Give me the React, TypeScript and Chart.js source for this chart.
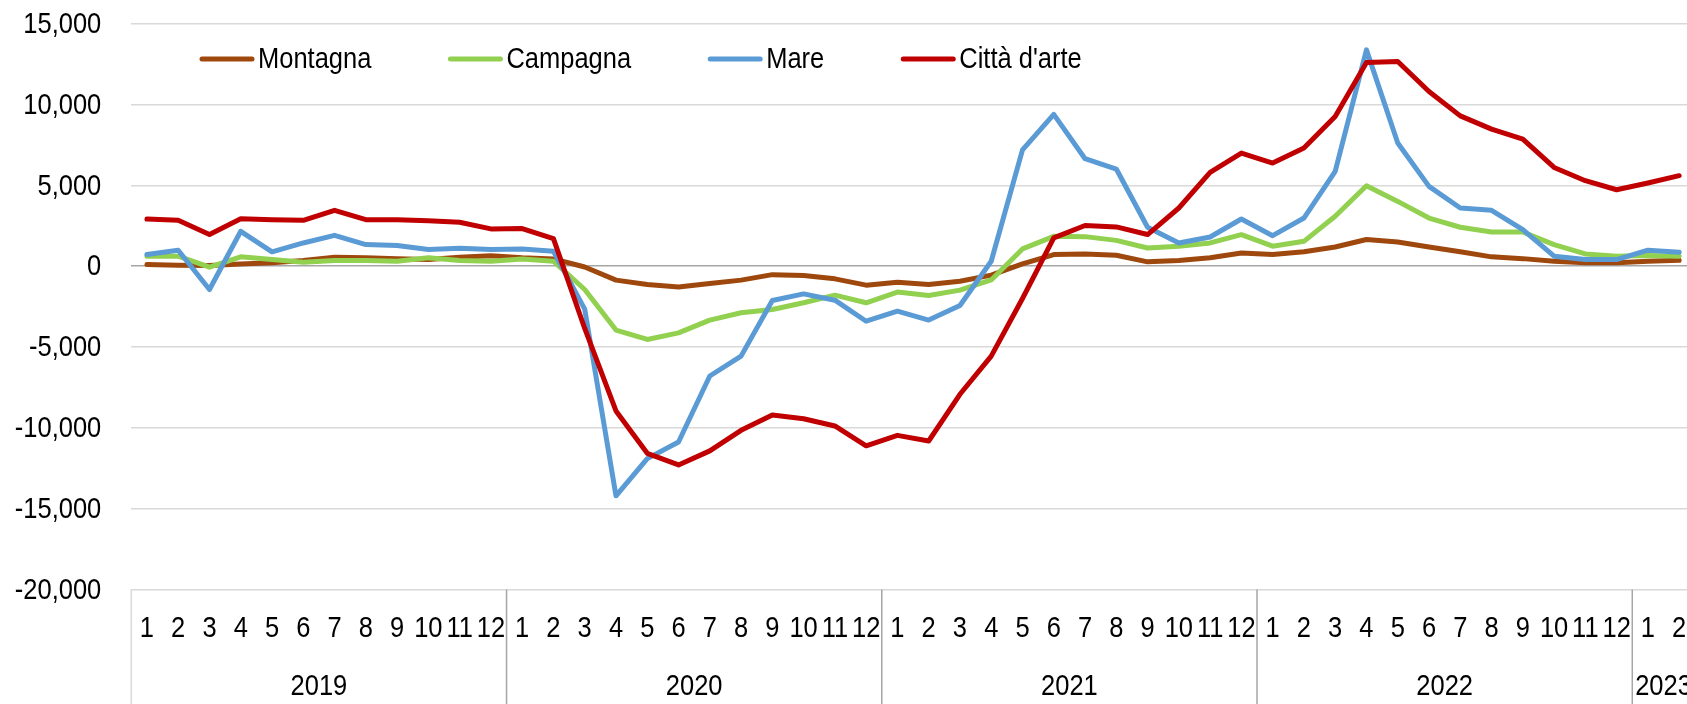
import React, { useEffect, useRef } from "react";
import { Chart, registerables } from "chart.js";

Chart.register(...registerables);

const years = ["2019", "2020", "2021", "2022", "2023"];
const monthsPerYear = [12, 12, 12, 12, 2];
const monthLabels = [
  "1", "2", "3", "4", "5", "6", "7", "8", "9", "10", "11", "12",
  "1", "2", "3", "4", "5", "6", "7", "8", "9", "10", "11", "12",
  "1", "2", "3", "4", "5", "6", "7", "8", "9", "10", "11", "12",
  "1", "2", "3", "4", "5", "6", "7", "8", "9", "10", "11", "12",
  "1", "2",
];
const yTicks = [-20000, -15000, -10000, -5000, 0, 5000, 10000, 15000];

const montagna = [
  100, 60, 50, 140, 210, 350, 550, 520, 470, 410, 550, 650,
  520, 450, -50, -860, -1130, -1280, -1070, -860, -520, -580, -780, -1170,
  -990, -1130, -930, -550, 150, 720, 760, 680, 270, 350, 520, 820,
  720, 890, 1190, 1650, 1500, 1190, 890, 580, 470, 310, 210, 210,
  310, 370,
];
const campagna = [
  620, 620, -60, 580, 410, 250, 350, 350, 310, 520, 350, 310,
  450, 310, -1440, -3950, -4530, -4120, -3330, -2880, -2680, -2260, -1790, -2260,
  -1600, -1810, -1480, -850, 1070, 1850, 1830, 1600, 1130, 1240, 1440, 1950,
  1240, 1540, 3090, 4980, 4010, 2980, 2410, 2120, 2120, 1340, 760, 620,
  660, 620,
];
const mare = [
  720, 990, -1440, 2160, 890, 1440, 1910, 1340, 1280, 1030, 1110, 1030,
  1070, 930, -2650, -14200, -11900, -10870, -6790, -5560, -2120, -1710, -2100, -3400,
  -2780, -3330, -2430, 310, 7200, 9390, 6650, 6010, 2410, 1440, 1810, 2920,
  1890, 2980, 5870, 13380, 7620, 4940, 3600, 3460, 2260, 620, 410, 410,
  990, 860,
];
const cittaArte = [
  2920, 2840, 1960, 2940, 2880, 2840, 3460, 2880, 2880, 2820, 2720, 2310,
  2330, 1710, -3850, -8950, -11570, -12290, -11420, -10150, -9200, -9430, -9880, -11110,
  -10460, -10810, -7920, -5560, -2000, 1750, 2520, 2430, 1960, 3600, 5800, 7000,
  6380, 7310, 9260, 12600, 12660, 10810, 9300, 8480, 7860, 6110, 5290, 4730,
  5150, 5600,
];

const seriesNames = ["Montagna", "Campagna", "Mare", "Città d'arte"];
const seriesColors = ["#9E480E", "#92D050", "#5B9BD5", "#C00000"];

const FONT = "'Liberation Sans', Arial, sans-serif";
const FONT_SIZE = 30;
const NARROW = 0.85;

const fmt = (v: number) => {
  const s = Math.abs(v).toString().replace(/\B(?=(\d{3})+(?!\d))/g, ",");
  return (v < 0 ? "-" : "") + s;
};

function narrowText(ctx: CanvasRenderingContext2D, text: string, x: number, y: number, align: CanvasTextAlign) {
  ctx.save();
  ctx.translate(x, y);
  ctx.scale(NARROW, 1);
  ctx.textAlign = align;
  ctx.fillText(text, 0, 0);
  ctx.restore();
}

const legendPlugin = {
  id: "customLegend",
  afterDraw(chart: any) {
    const ctx = chart.ctx;
    ctx.save();
    ctx.font = `${FONT_SIZE}px ${FONT}`;
    ctx.textBaseline = "middle";
    let x = 200;
    const y = 59;
    chart.data.datasets.forEach((ds: any) => {
      ctx.strokeStyle = ds.borderColor;
      ctx.lineWidth = 5;
      ctx.lineCap = "round";
      ctx.beginPath();
      ctx.moveTo(x + 2, y);
      ctx.lineTo(x + 52, y);
      ctx.stroke();
      ctx.fillStyle = "#000";
      narrowText(ctx, ds.label, x + 58, y + 1, "left");
      const w = ctx.measureText(ds.label).width * NARROW;
      x = x + 58 + w + 77;
    });
    ctx.restore();
  },
};

const axisLabelPlugin = {
  id: "axisLabels",
  afterDraw(chart: any) {
    const ctx = chart.ctx;
    const xs = chart.scales.x;
    const ys = chart.scales.y;
    const step = xs.getPixelForValue(1) - xs.getPixelForValue(0);
    const top = chart.chartArea.bottom;
    const bottom = chart.height;
    ctx.save();
    ctx.font = `${FONT_SIZE}px ${FONT}`;
    ctx.textBaseline = "middle";
    ctx.fillStyle = "#000";
    ys.ticks.forEach((t: any) => {
      const py = ys.getPixelForValue(t.value);
      narrowText(ctx, fmt(t.value), chart.chartArea.left - 30, py + 1, "right");
    });
    (chart.data.labels as string[]).forEach((lab, i) => {
      const px = xs.getPixelForValue(i);
      narrowText(ctx, lab, px, top + 39, "center");
    });
    let idx = 0;
    years.forEach((yr, gi) => {
      const n = monthsPerYear[gi];
      const left = xs.getPixelForValue(idx) - step / 2;
      const right = xs.getPixelForValue(idx + n - 1) + step / 2;
      ctx.strokeStyle = gi === 0 ? "#d9d9d9" : "#a6a6a6";
      ctx.lineWidth = 1.5;
      ctx.beginPath();
      ctx.moveTo(left, top);
      ctx.lineTo(left, bottom);
      ctx.stroke();
      narrowText(ctx, yr, (left + right) / 2, top + 97, "center");
      idx += n;
    });
    ctx.restore();
  },
};

export default function App() {
  const ref = useRef<HTMLCanvasElement | null>(null);

  useEffect(() => {
    if (!ref.current) return;
    const data = [montagna, campagna, mare, cittaArte];
    const chart = new Chart(ref.current, {
      type: "line",
      data: {
        labels: monthLabels,
        datasets: data.map((d, i) => ({
          label: seriesNames[i],
          data: d,
          borderColor: seriesColors[i],
          backgroundColor: seriesColors[i],
          borderWidth: 5,
          pointRadius: 0,
          tension: 0,
          fill: false,
          borderJoinStyle: "round" as const,
          borderCapStyle: "round" as const,
          order: 3 - i,
        })),
      },
      options: {
        responsive: false,
        animation: false,
        devicePixelRatio: 1,
        layout: { padding: { top: 23.7, right: 5.2, bottom: 0, left: 0 } },
        plugins: {
          legend: { display: false },
          tooltip: { enabled: false },
          title: { display: false },
        },
        scales: {
          x: {
            type: "category",
            offset: true,
            grid: { display: false, drawTicks: false },
            border: { display: false },
            ticks: { display: false, autoSkip: false },
            afterFit: (scale: any) => {
              scale.height = 114.4;
            },
          },
          y: {
            min: -20000,
            max: 15000,
            afterBuildTicks: (scale: any) => {
              scale.ticks = yTicks.map((v) => ({ value: v }));
            },
            grid: {
              drawTicks: false,
              lineWidth: 1.5,
              color: (c: any) => (c.tick && c.tick.value === 0 ? "#a6a6a6" : "#d9d9d9"),
            },
            border: { display: false },
            ticks: { display: false },
            afterFit: (scale: any) => {
              scale.width = 131.3;
            },
          },
        },
      },
      plugins: [legendPlugin, axisLabelPlugin],
    });
    return () => chart.destroy();
  }, []);

  return (
    <div
      style={{
        position: "fixed",
        left: 0,
        top: 0,
        width: 1687,
        height: 704,
        overflow: "hidden",
        background: "#fff",
      }}
    >
      <canvas ref={ref} width={1700} height={704} style={{ display: "block" }} />
    </div>
  );
}
